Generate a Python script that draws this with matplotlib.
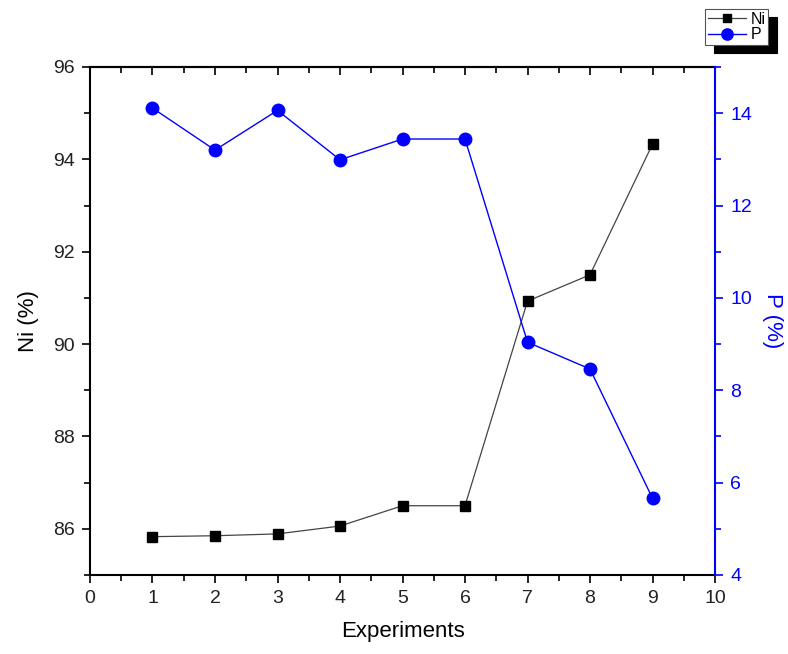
import matplotlib
matplotlib.use("Agg")
import matplotlib.pyplot as plt
from matplotlib.ticker import MultipleLocator

plt.rcParams['font.family'] = ['Liberation Sans', 'DejaVu Sans']

# data
experiments = [1, 2, 3, 4, 5, 6, 7, 8, 9]
ni = [85.83, 85.85, 85.89, 86.06, 86.50, 86.50, 90.93, 91.50, 94.33]
p = [14.11, 13.20, 14.06, 12.99, 13.44, 13.44, 9.04, 8.46, 5.66]

fig = plt.figure(figsize=(7.88, 6.54), dpi=100)
ax = fig.add_axes([0.1142, 0.1208, 0.7932, 0.7768])
ax2 = ax.twinx()

l1, = ax.plot(experiments, ni, color='#444444', lw=0.9, marker='s', ms=7,
              mfc='black', mec='black', label='Ni')
l2, = ax2.plot(experiments, p, color='blue', lw=1.0, marker='o', ms=9,
               mfc='blue', mec='blue', label='P')

ax.set_xlim(0, 10)
ax.set_ylim(85, 96)
ax2.set_ylim(4, 15)

ax.xaxis.set_major_locator(MultipleLocator(1))
ax.xaxis.set_minor_locator(MultipleLocator(0.5))
ax.yaxis.set_major_locator(MultipleLocator(2))
ax.yaxis.set_minor_locator(MultipleLocator(1))
ax2.yaxis.set_major_locator(MultipleLocator(2))
ax2.yaxis.set_minor_locator(MultipleLocator(1))

ax.tick_params(axis='both', which='major', direction='out', length=6, width=1.2,
               labelsize=14, pad=5, labelcolor='#222222')
ax.tick_params(axis='both', which='minor', direction='out', length=4, width=1.2)
ax.tick_params(axis='x', which='both', top=False)
ax2.tick_params(axis='y', which='major', direction='out', length=6, width=1.2,
                colors='blue', labelsize=14, pad=5)
ax2.tick_params(axis='y', which='minor', direction='out', length=4, width=1.2,
                colors='blue')

# top axis ticks point inward
secx = ax.secondary_xaxis('top')
secx.xaxis.set_major_locator(MultipleLocator(1))
secx.xaxis.set_minor_locator(MultipleLocator(0.5))
secx.tick_params(which='major', direction='in', length=6, width=1.2, labeltop=False)
secx.tick_params(which='minor', direction='in', length=4, width=1.2)

for s in ['left', 'bottom', 'top']:
    ax.spines[s].set_linewidth(1.5)
ax.spines['right'].set_visible(False)
ax2.spines['left'].set_visible(False)
ax2.spines['top'].set_visible(False)
ax2.spines['bottom'].set_visible(False)
ax2.spines['right'].set_color('blue')
ax2.spines['right'].set_linewidth(1.5)
secx.spines['top'].set_linewidth(1.5)

ax.set_xlabel('Experiments', fontsize=16, labelpad=10)
ax.set_ylabel('Ni (%)', fontsize=16, labelpad=10)
ax2.set_ylabel('P (%)', fontsize=16, color='blue', rotation=-90, labelpad=22)

leg = fig.legend(handles=[l1, l2], loc='upper right', bbox_to_anchor=(0.975, 0.986),
                 borderaxespad=0, fontsize=11.5, frameon=True, fancybox=False,
                 shadow={'color': 'black', 'alpha': 1.0, 'ox': 6, 'oy': -6},
                 edgecolor='#555555', handlelength=2.4, handletextpad=0.3,
                 borderpad=0.15, labelspacing=0.05, markerscale=0.9)
leg.get_frame().set_linewidth(0.8)

fig.savefig('out.png', dpi=100)
